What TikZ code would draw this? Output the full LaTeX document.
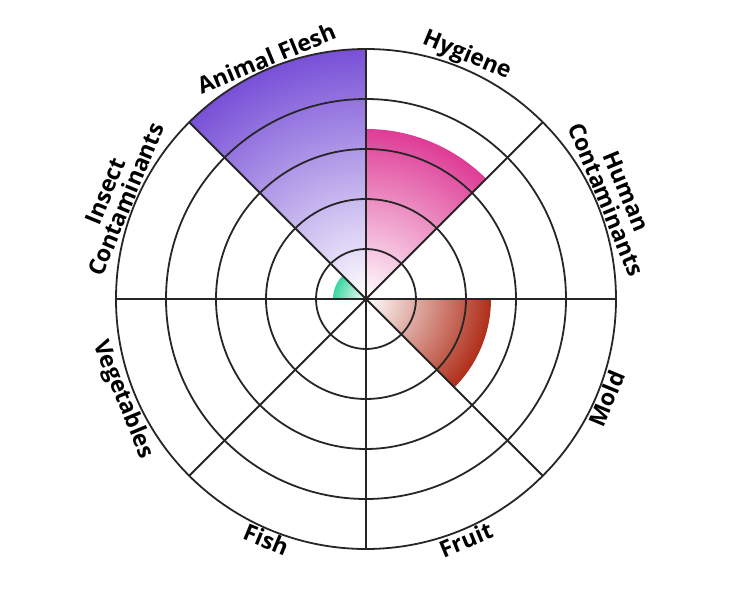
\documentclass[tikz,border=0pt]{standalone}
\usepackage{fontspec}
\setmainfont{Open Sans}
\begin{document}
\begin{tikzpicture}[x=1pt,y=1pt,
  ring/.style={draw=black!85,line width=1.8pt},
  lab/.style={font=\bfseries\fontsize{23}{27}\selectfont,align=center,inner sep=1.5pt}]
\useasboundingbox (-366,-301) rectangle (366,299);
\coordinate (c) at (0,0);
% sectors
\begin{scope}
 \clip (c) -- (135:250) arc[start angle=135,end angle=90,radius=250] -- cycle;
 \shade[inner color=white,outer color={rgb,255:red,120;green,80;blue,215}] (c) circle (250);
\end{scope}
\begin{scope}
 \clip (c) -- (90:170) arc[start angle=90,end angle=45,radius=170] -- cycle;
 \shade[inner color=white,outer color={rgb,255:red,222;green,60;blue,150}] (c) circle (170);
\end{scope}
\begin{scope}
 \clip (c) -- (0:125) arc[start angle=0,end angle=-45,radius=125] -- cycle;
 \shade[inner color=white,outer color={rgb,255:red,175;green,45;blue,25}] (c) circle (125);
\end{scope}
\begin{scope}
 \clip (c) -- (180:33) arc[start angle=180,end angle=135,radius=33] -- cycle;
 \shade[inner color=white,outer color={rgb,255:red,60;green,215;blue,160}] (c) circle (33);
\end{scope}
% grid
\foreach \r in {50,100,150,200,250} \draw[ring] (c) circle (\r);
\foreach \a in {0,45,...,315} \draw[ring] (c) -- (\a:250);
% labels
\node[lab,anchor=south,rotate=-22.5] (hy) at (67.5:250) {Hygiene};
\node[lab,anchor=south,rotate=-67.5] (hu) at (22.5:250) {Human\\[-5pt]Contaminants};
\node[lab,anchor=north,rotate=67.5] (mo) at (-22.5:250) {Mold};
\node[lab,anchor=north,rotate=22.5] (fr) at (-67.5:250) {Fruit};
\node[lab,anchor=north,rotate=-22.5] (fi) at (-112.5:250) {Fish};
\node[lab,anchor=north,rotate=-67.5] (ve) at (-157.5:250) {Vegetables};
\node[lab,anchor=south,rotate=67.5] (in) at (157.5:250) {Insect\\[-5pt]Contaminants};
\node[lab,anchor=south,rotate=22.5] (an) at (112.5:250) {Animal Flesh};
\end{tikzpicture}
\end{document}
